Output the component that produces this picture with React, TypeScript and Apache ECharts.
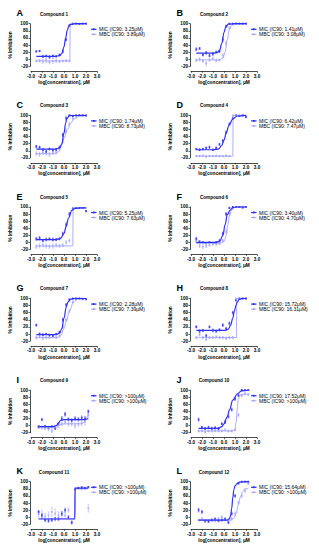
import React, { useEffect, useRef } from "react";
import * as echarts from "echarts";

const CONC_A = [-2.52, -2.22, -1.92, -1.62, -1.32, -1.01, -0.71, -0.41, -0.11, 0.19, 0.49, 0.8, 1.1, 1.4, 1.7, 2.0];
const CONC_B = [-2.31, -2.01, -1.71, -1.41, -1.11, -0.8, -0.5, -0.2, 0.1, 0.4, 0.7, 1.01, 1.31, 1.61, 1.91, 2.21];

const LETTERS = ["A", "B", "C", "D", "E", "F", "G", "H", "I", "J", "K", "L"];
const TITLES = ["Compound 1", "Compound 2", "Compound 3", "Compound 4", "Compound 5", "Compound 6", "Compound 7", "Compound 8", "Compound 9", "Compound 10", "Compound 11", "Compound 12"];
const MIC_LABELS = ["MIC (IC90: 3.25μM)", "MIC (IC90: 1.41μM)", "MIC (IC90: 1.74μM)", "MIC (IC90: 6.42μM)", "MIC (IC90: 5.25μM)", "MIC (IC90: 3.40μM)", "MIC (IC90: 2.28μM)", "MIC (IC90: 15.72μM)", "MIC (IC90: >100μM)", "MIC (IC90: 17.52μM)", "MIC (IC90: >100μM)", "MIC (IC90: 15.64μM)"];
const MBC_LABELS = ["MBC (IC90: 3.89μM)", "MBC (IC90: 3.08μM)", "MBC (IC90: 8.73μM)", "MBC (IC90: 7.47μM)", "MBC (IC90: 7.63μM)", "MBC (IC90: 4.70μM)", "MBC (IC90: 7.39μM)", "MBC (IC90: 16.31μM)", "MBC (IC90: >100μM)", "MBC (IC90: >100μM)", "MBC (IC90: >100μM)", "MBC (IC90: >100μM)"];
const X_TICKS = [-3, -2, -1, 0, 1, 2, 3];

// Compound 1
const C1_MIC = [22, 23, 8, 9, 6, 9, 8, 12, 22, 55, 95, 100, 100, 99, 100, 100];
const C1_MIC_SD = [2, 2, 3, 3, 4, 3, 2, 3, 4, 4, 2, 1, 1, 1, 1, 1];
const C1_MBC = [-5, -4, -6, -3, -8, -5, -4, -6, -5, -4, -5, 100, 100, 100, 100, 100];
const C1_MBC_SD = [3, 3, 6, 6, 5, 7, 5, 4, 3, 3, 2, 0, 0, 0, 0, 0];
const C1_MIC_FIT = [[-2.52, 8], [-0.8, 8], [-0.4, 10], [-0.2, 16], [0, 35], [0.15, 60], [0.3, 82], [0.45, 94], [0.6, 98], [1, 100], [2, 100]];
const C1_MBC_FIT = [[-2.52, -5], [0.53, -5], [0.56, 100], [2, 100]];
// Compound 2
const C2_MIC = [28, 30, 12, 18, 10, 15, 20, 22, 55, 93, 100, 100, 100, 100, 100, 100];
const C2_MIC_SD = [4, 3, 3, 4, 3, 4, 3, 4, 5, 3, 1, 1, 1, 1, 1, 1];
const C2_MBC = [-3, 0, -5, -12, -2, 2, -4, -2, 10, 45, 88, 98, 100, 100, 100, 100];
const C2_MBC_SD = [4, 5, 4, 5, 4, 4, 4, 3, 5, 5, 4, 2, 1, 1, 1, 1];
const C2_MIC_FIT = [[-2.52, 17], [-1, 17], [-0.6, 19], [-0.4, 25], [-0.2, 45], [0, 75], [0.15, 90], [0.4, 99], [1, 100], [2, 100]];
const C2_MBC_FIT = [[-2.52, -2], [-0.4, -2], [-0.1, 3], [0.1, 20], [0.3, 55], [0.5, 85], [0.7, 96], [1, 99], [2, 100]];
// Compound 3
const C3_MIC = [12, 10, 3, -2, 5, 2, 3, 10, 45, 92, 100, 98, 100, 100, 100, 100];
const C3_MIC_SD = [3, 3, 3, 3, 3, 3, 3, 3, 5, 4, 1, 2, 1, 1, 1, 1];
const C3_MBC = [-8, -10, -5, -8, -10, -6, -5, 5, 30, 55, 75, 92, 97, 100, 100, 98];
const C3_MBC_SD = [5, 6, 5, 4, 6, 4, 4, 5, 6, 6, 5, 4, 2, 1, 1, 2];
const C3_MIC_FIT = [[-2.52, 5], [-0.8, 5], [-0.4, 8], [-0.2, 20], [0, 50], [0.15, 78], [0.25, 90], [0.5, 99], [1, 100], [2, 100]];
const C3_MBC_FIT = [[-2.52, -8], [-0.9, -8], [-0.5, -3], [-0.2, 15], [0, 35], [0.3, 60], [0.6, 78], [0.94, 90], [1.4, 97], [2, 99]];
// Compound 4
const C4_MIC = [5, 3, 5, 8, 10, 3, 8, 18, 28, 52, 75, 92, 100, 98, 100, 95];
const C4_MIC_SD = [2, 3, 2, 3, 3, 2, 3, 3, 4, 4, 4, 3, 1, 1, 1, 2];
const C4_MBC = [-15, -15, -14, -16, -15, -15, -14, -15, -15, -14, -15, 100, 100, 100, 100, 100];
const C4_MBC_SD = [2, 2, 2, 2, 2, 2, 2, 2, 2, 2, 2, 0, 0, 0, 0, 0];
const C4_MIC_FIT = [[-2.52, 3], [-1, 3], [-0.5, 5], [-0.2, 15], [0, 30], [0.2, 50], [0.45, 72], [0.81, 90], [1.2, 98], [2, 100]];
const C4_MBC_FIT = [[-2.52, -15], [0.8, -15], [0.83, 100], [2, 100]];
// Compound 5
const C5_MIC = [10, 12, 5, 8, 10, 8, 8, 10, 25, 50, 80, 95, 97, 97, 97, 88];
const C5_MIC_SD = [4, 5, 3, 4, 3, 4, 3, 3, 4, 5, 4, 2, 1, 1, 1, 2];
const C5_MBC = [-12, -10, -8, -10, -12, -10, -8, -10, -8, 0, 5, 97, 97, 97, 97, 97];
const C5_MBC_SD = [5, 6, 5, 6, 5, 6, 5, 4, 4, 5, 4, 0, 0, 0, 0, 0];
const C5_MIC_FIT = [[-2.52, 8], [-0.7, 8], [-0.3, 12], [0, 25], [0.2, 45], [0.4, 68], [0.72, 90], [1, 96], [1.5, 97], [2, 97]];
const C5_MBC_FIT = [[-2.52, -10], [0.8, -10], [0.83, 97], [2, 97]];
// Compound 6
const C6_MIC = [10, 2, 0, -2, 0, -2, 0, 5, 25, 80, 97, 100, 100, 100, 98, 100];
const C6_MIC_SD = [5, 3, 2, 2, 2, 2, 2, 3, 4, 4, 2, 1, 1, 1, 1, 1];
const C6_MBC = [5, -10, -12, -10, -8, -5, -5, -3, 5, 30, 80, 96, 100, 100, 100, 100];
const C6_MBC_SD = [5, 4, 5, 4, 3, 3, 3, 3, 4, 5, 4, 2, 1, 1, 1, 1];
const C6_MIC_FIT = [[-2.52, 0], [-0.8, 0], [-0.4, 3], [-0.1, 20], [0.1, 50], [0.3, 78], [0.53, 90], [0.8, 98], [1.2, 100], [2, 100]];
const C6_MBC_FIT = [[-2.52, -3], [-0.5, -3], [0, 2], [0.2, 20], [0.35, 50], [0.5, 75], [0.67, 90], [0.9, 98], [1.3, 100], [2, 100]];
// Compound 7
const C7_MIC = [25, 0, -2, 0, -3, -5, 0, 5, 40, 82, 97, 100, 100, 100, 98, 98];
const C7_MIC_SD = [3, 3, 3, 2, 3, 3, 2, 3, 4, 4, 2, 1, 1, 1, 1, 1];
const C7_MBC = [-10, -8, -12, -10, -10, -8, -10, -5, 20, 40, 65, 90, 98, 100, 100, 97];
const C7_MBC_SD = [4, 3, 4, 3, 3, 3, 3, 4, 5, 5, 4, 3, 2, 1, 1, 2];
const C7_MIC_FIT = [[-2.52, -2], [-0.7, -2], [-0.4, 3], [-0.2, 15], [0, 45], [0.2, 75], [0.36, 90], [0.6, 98], [1, 100], [2, 100]];
const C7_MBC_FIT = [[-2.52, -10], [-0.6, -10], [-0.3, -5], [0, 15], [0.2, 35], [0.5, 65], [0.87, 90], [1.2, 97], [1.6, 99], [2, 99]];
// Compound 8
const C8_MIC = [20, 8, 10, -5, 20, 10, 8, 12, 25, 15, 30, 60, 95, 100, 100, 100];
const C8_MIC_SD = [3, 4, 3, 3, 3, 4, 3, 3, 4, 3, 4, 4, 2, 1, 1, 1];
const C8_MBC = [-10, -2, -10, -15, -10, -10, -8, -10, -10, -12, -10, -10, 100, 100, 100, 100];
const C8_MBC_SD = [3, 4, 3, 4, 3, 3, 3, 3, 3, 3, 3, 3, 0, 0, 0, 0];
const C8_MIC_FIT = [[-2.52, 10], [0.1, 10], [0.4, 14], [0.6, 25], [0.8, 45], [0.95, 65], [1.1, 82], [1.2, 90], [1.4, 98], [1.7, 100], [2, 100]];
const C8_MBC_FIT = [[-2.52, -10], [1.13, -10], [1.16, 100], [2, 100]];
// Compound 9
const C9_MIC = [-3, 17, -2, -5, -3, -8, 5, 20, 32, 18, 15, 20, 18, 22, 20, 40];
const C9_MIC_SD = [3, 3, 3, 3, 3, 3, 4, 5, 5, 4, 4, 5, 4, 5, 5, 4];
const C9_MBC = [-5, -5, -8, -10, -15, -5, 0, 5, 10, 5, 5, 0, 5, 8, 10, 30];
const C9_MBC_SD = [4, 5, 4, 5, 5, 4, 5, 5, 6, 6, 6, 7, 8, 8, 8, 6];
const C9_MIC_FIT = [[-2.31, -3], [-1, -3], [-0.7, 0], [-0.5, 8], [-0.3, 15], [0, 17], [1.9, 17], [2.21, 20]];
const C9_MBC_FIT = [[-2.31, -6], [-0.8, -6], [-0.4, 2], [0, 5], [1.6, 5], [1.85, 10], [2.0, 20], [2.21, 30]];
// Compound 10
const C10_MIC = [17, -5, -8, -5, -8, -6, -8, 5, 10, 25, 45, 75, 85, 100, 100, 100];
const C10_MIC_SD = [4, 3, 3, 3, 3, 3, 3, 3, 4, 4, 4, 4, 3, 2, 1, 1];
const C10_MBC = [-15, -15, -18, -15, -15, -14, -15, -15, -12, -15, -15, -12, 30, 85, 90, 88];
const C10_MBC_SD = [3, 3, 3, 3, 3, 3, 3, 3, 3, 3, 3, 3, 5, 4, 3, 3];
const C10_MIC_FIT = [[-2.31, -8], [-0.5, -8], [-0.2, -3], [0, 5], [0.3, 25], [0.5, 45], [0.8, 72], [1.24, 90], [1.6, 98], [2.21, 100]];
const C10_MBC_FIT = [[-2.31, -15], [0.8, -15], [1.0, -10], [1.1, 10], [1.2, 45], [1.3, 75], [1.5, 87], [2.21, 88]];
// Compound 11
const C11_MIC = [15, 5, -8, -10, -8, -5, -5, 10, 20, 0, -15, 78, 82, 84, 82, 85];
const C11_MIC_SD = [4, 5, 4, 4, 4, 4, 4, 5, 5, 4, 4, 3, 2, 2, 2, 2];
const C11_MBC = [8, 10, 2, 5, 15, 10, 5, 8, 5, 20, -15, 80, 82, 80, 82, 25];
const C11_MBC_SD = [8, 10, 8, 10, 12, 12, 10, 8, 8, 6, 4, 3, 3, 3, 3, 10];
const C11_MIC_FIT = [[-2.31, -5], [0.98, -5], [1.01, 82], [2.21, 82]];
const C11_MBC_FIT = [[-2.31, -4], [0.98, -4], [1.01, 80], [2.21, 80]];
// Compound 12
const C12_MIC = [20, 15, -10, -12, -8, -5, -10, -8, -5, -15, 10, 60, 95, 100, 100, 100];
const C12_MIC_SD = [5, 4, 3, 3, 3, 3, 3, 3, 3, 3, 4, 4, 2, 1, 1, 1];
const C12_MBC = [-8, -5, -12, -10, -8, -10, -5, 0, -8, -10, -5, 10, 40, 60, 75, 95];
const C12_MBC_SD = [3, 4, 3, 3, 3, 3, 4, 4, 3, 3, 4, 5, 5, 5, 5, 3];
const C12_MIC_FIT = [[-2.31, -8], [0.3, -8], [0.5, -4], [0.6, 5], [0.7, 25], [0.8, 55], [0.9, 78], [1.0, 88], [1.19, 95], [1.4, 99], [2.21, 100]];
const C12_MBC_FIT = [[-2.31, -8], [0.6, -8], [0.9, -3], [1.1, 10], [1.3, 35], [1.5, 58], [1.7, 72], [1.9, 79], [2.21, 82]];

const PANELS = [
  { conc: CONC_A, mic: C1_MIC, micSd: C1_MIC_SD, mbc: C1_MBC, mbcSd: C1_MBC_SD, micFit: C1_MIC_FIT, mbcFit: C1_MBC_FIT },
  { conc: CONC_A, mic: C2_MIC, micSd: C2_MIC_SD, mbc: C2_MBC, mbcSd: C2_MBC_SD, micFit: C2_MIC_FIT, mbcFit: C2_MBC_FIT },
  { conc: CONC_A, mic: C3_MIC, micSd: C3_MIC_SD, mbc: C3_MBC, mbcSd: C3_MBC_SD, micFit: C3_MIC_FIT, mbcFit: C3_MBC_FIT },
  { conc: CONC_A, mic: C4_MIC, micSd: C4_MIC_SD, mbc: C4_MBC, mbcSd: C4_MBC_SD, micFit: C4_MIC_FIT, mbcFit: C4_MBC_FIT },
  { conc: CONC_A, mic: C5_MIC, micSd: C5_MIC_SD, mbc: C5_MBC, mbcSd: C5_MBC_SD, micFit: C5_MIC_FIT, mbcFit: C5_MBC_FIT },
  { conc: CONC_A, mic: C6_MIC, micSd: C6_MIC_SD, mbc: C6_MBC, mbcSd: C6_MBC_SD, micFit: C6_MIC_FIT, mbcFit: C6_MBC_FIT },
  { conc: CONC_A, mic: C7_MIC, micSd: C7_MIC_SD, mbc: C7_MBC, mbcSd: C7_MBC_SD, micFit: C7_MIC_FIT, mbcFit: C7_MBC_FIT },
  { conc: CONC_A, mic: C8_MIC, micSd: C8_MIC_SD, mbc: C8_MBC, mbcSd: C8_MBC_SD, micFit: C8_MIC_FIT, mbcFit: C8_MBC_FIT },
  { conc: CONC_B, mic: C9_MIC, micSd: C9_MIC_SD, mbc: C9_MBC, mbcSd: C9_MBC_SD, micFit: C9_MIC_FIT, mbcFit: C9_MBC_FIT },
  { conc: CONC_B, mic: C10_MIC, micSd: C10_MIC_SD, mbc: C10_MBC, mbcSd: C10_MBC_SD, micFit: C10_MIC_FIT, mbcFit: C10_MBC_FIT },
  { conc: CONC_B, mic: C11_MIC, micSd: C11_MIC_SD, mbc: C11_MBC, mbcSd: C11_MBC_SD, micFit: C11_MIC_FIT, mbcFit: C11_MBC_FIT },
  { conc: CONC_B, mic: C12_MIC, micSd: C12_MIC_SD, mbc: C12_MBC, mbcSd: C12_MBC_SD, micFit: C12_MIC_FIT, mbcFit: C12_MBC_FIT },
];

const MIC_COLOR = "#3030f5";
const MBC_COLOR = "#a3a3ff";
const FONT = "'Liberation Sans', Arial, sans-serif";

function errRender(color: string) {
  return (params: any, api: any) => {
    const x = api.value(0);
    const lo = api.value(1);
    const hi = api.value(2);
    const a = api.coord([x, lo]);
    const b = api.coord([x, hi]);
    const style = { stroke: color, lineWidth: 0.5 };
    return {
      type: "group",
      children: [
        { type: "line", shape: { x1: a[0], y1: a[1], x2: b[0], y2: b[1] }, style },
        { type: "line", shape: { x1: a[0] - 0.8, y1: a[1], x2: a[0] + 0.8, y2: a[1] }, style },
        { type: "line", shape: { x1: b[0] - 0.8, y1: b[1], x2: b[0] + 0.8, y2: b[1] }, style },
      ],
    };
  };
}

function buildOption() {
  const grid: any[] = [];
  const xAxis: any[] = [];
  const yAxis: any[] = [];
  const series: any[] = [];
  const graphic: any[] = [];
  PANELS.forEach((p, i) => {
    const col = i % 2;
    const row = Math.floor(i / 2);
    const ox = col * 160;
    const oy = 23.7 + row * 91.6;
    grid.push({ left: ox + 31, top: oy, width: 66, height: 42.6 });
    xAxis.push({
      type: "value", gridIndex: i, min: X_TICKS[0], max: X_TICKS[X_TICKS.length - 1], interval: 1, offset: 5,
      axisLine: { show: true, onZero: false, lineStyle: { color: "#000", width: 0.7 } },
      axisTick: { show: true, length: 1.5, lineStyle: { color: "#000", width: 0.6 } },
      axisLabel: { fontSize: 4.6, fontWeight: "bold", color: "#000", margin: 2.2, fontFamily: FONT, formatter: (v: number) => v.toFixed(1) },
      splitLine: { show: false },
      name: "log[concentration], μM", nameLocation: "middle", nameGap: 8.5,
      nameTextStyle: { fontSize: 4.8, fontWeight: "bold", color: "#000", fontFamily: FONT },
    });
    yAxis.push({
      type: "value", gridIndex: i, min: -20, max: 100, interval: 20, offset: 1,
      axisLine: { show: true, onZero: false, lineStyle: { color: "#000", width: 0.7 } },
      axisTick: { show: true, length: 1.5, lineStyle: { color: "#000", width: 0.6 } },
      axisLabel: { fontSize: 4.6, fontWeight: "bold", color: "#000", margin: 2, fontFamily: FONT },
      splitLine: { show: false },
      name: "% Inhibition", nameLocation: "middle", nameGap: 17,
      nameTextStyle: { fontSize: 4.8, fontWeight: "bold", color: "#000", fontFamily: FONT },
    });
    const micPts = p.conc.map((x, k) => [x, p.mic[k]]);
    const mbcPts = p.conc.map((x, k) => [x, p.mbc[k]]);
    const micErr = p.conc.map((x, k) => [x, p.mic[k] - p.micSd[k], p.mic[k] + p.micSd[k]]).filter((_, k) => p.micSd[k] > 0);
    const mbcErr = p.conc.map((x, k) => [x, p.mbc[k] - p.mbcSd[k], p.mbc[k] + p.mbcSd[k]]).filter((_, k) => p.mbcSd[k] > 0);
    series.push(
      { type: "custom", xAxisIndex: i, yAxisIndex: i, data: mbcErr, renderItem: errRender(MBC_COLOR), encode: { x: 0, y: [1, 2] }, silent: true, z: 1 },
      { type: "custom", xAxisIndex: i, yAxisIndex: i, data: micErr, renderItem: errRender(MIC_COLOR), encode: { x: 0, y: [1, 2] }, silent: true, z: 1 },
      { type: "scatter", xAxisIndex: i, yAxisIndex: i, data: mbcPts, symbol: "rect", symbolSize: 1.8, itemStyle: { color: MBC_COLOR }, silent: true, z: 2 },
      { type: "scatter", xAxisIndex: i, yAxisIndex: i, data: micPts, symbol: "rect", symbolSize: 1.8, itemStyle: { color: MIC_COLOR }, silent: true, z: 2 },
      { type: "line", xAxisIndex: i, yAxisIndex: i, data: p.mbcFit, showSymbol: false, smooth: 0.4, smoothMonotone: "x", lineStyle: { color: MBC_COLOR, width: 0.9 }, silent: true, z: 3 },
      { type: "line", xAxisIndex: i, yAxisIndex: i, data: p.micFit, showSymbol: false, smooth: 0.4, smoothMonotone: "x", lineStyle: { color: MIC_COLOR, width: 1.2 }, silent: true, z: 4 },
    );
    graphic.push(
      { type: "text", x: ox + 16.5, y: oy - 10.3, style: { text: LETTERS[i], fontSize: 9, fontWeight: "bold", fontFamily: FONT, fill: "#000", align: "left", verticalAlign: "middle" } },
      { type: "text", x: ox + 54, y: oy - 9.7, style: { text: TITLES[i], fontSize: 4.6, fontWeight: "bold", fontFamily: FONT, fill: "#000", align: "center", verticalAlign: "middle" } },
      { type: "line", shape: { x1: ox + 91, y1: oy + 5.6, x2: ox + 96.5, y2: oy + 5.6 }, style: { stroke: MIC_COLOR, lineWidth: 1.2 } },
      { type: "rect", shape: { x: ox + 92.9, y: oy + 4.7, width: 1.8, height: 1.8 }, style: { fill: MIC_COLOR } },
      { type: "text", x: ox + 99, y: oy + 5.6, style: { text: MIC_LABELS[i], fontSize: 5, fontFamily: FONT, fill: "#000", align: "left", verticalAlign: "middle" } },
      { type: "line", shape: { x1: ox + 91, y1: oy + 10.6, x2: ox + 96.5, y2: oy + 10.6 }, style: { stroke: MBC_COLOR, lineWidth: 0.9 } },
      { type: "rect", shape: { x: ox + 92.9, y: oy + 9.7, width: 1.8, height: 1.8 }, style: { fill: MBC_COLOR } },
      { type: "text", x: ox + 99, y: oy + 10.6, style: { text: MBC_LABELS[i], fontSize: 5, fontFamily: FONT, fill: "#000", align: "left", verticalAlign: "middle" } },
    );
  });
  return { animation: false, backgroundColor: "#fff", grid, xAxis, yAxis, series, graphic };
}

export default function App() {
  const ref = useRef<HTMLDivElement>(null);
  useEffect(() => {
    if (!ref.current) return;
    const chart = echarts.init(ref.current, undefined, { renderer: "svg" });
    chart.setOption(buildOption() as any);
    return () => chart.dispose();
  }, []);
  return <div ref={ref} style={{ position: "absolute", left: 0, top: 0, width: 319, height: 550, background: "#fff" }} />;
}
